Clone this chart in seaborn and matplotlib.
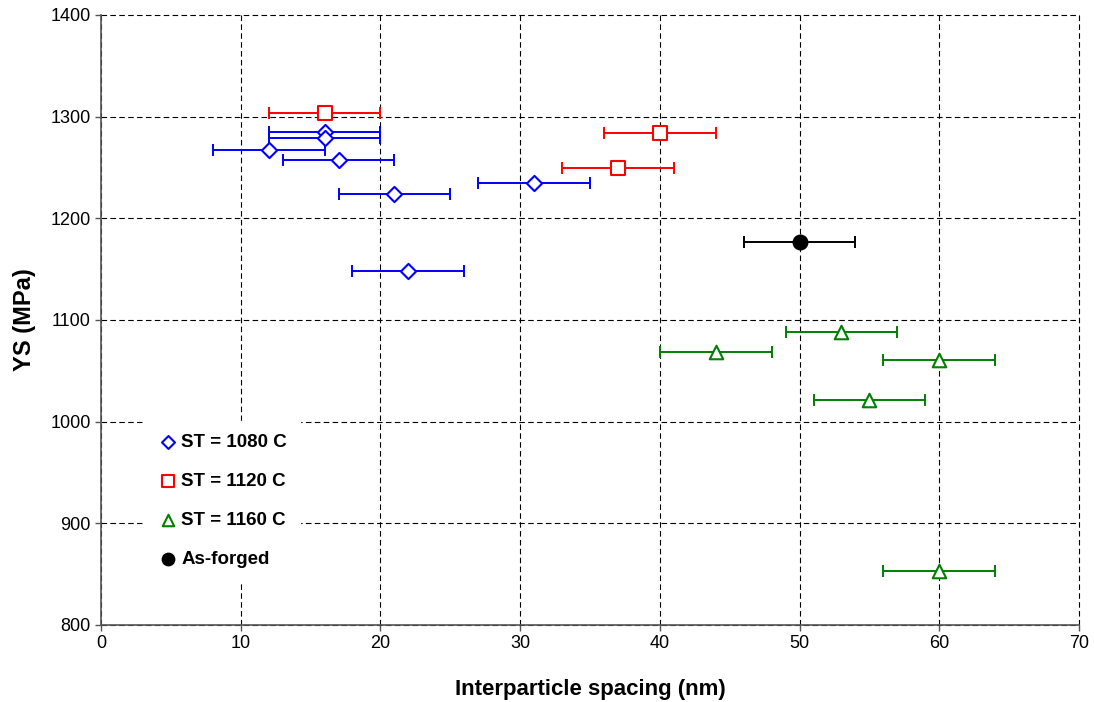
import matplotlib
matplotlib.use("Agg")
import matplotlib.pyplot as plt
import seaborn as sns
import pandas as pd

# Data
st1080_x = [16, 16, 12, 17, 21, 31, 22]
st1080_y = [1285, 1279, 1267, 1257, 1224, 1235, 1148]
st1120_x = [16, 40, 37]
st1120_y = [1304, 1284, 1250]
st1160_x = [53, 44, 60, 55, 60]
st1160_y = [1088, 1069, 1061, 1021, 853]
forged_x = [50]
forged_y = [1177]
x_err = 4

series = [
    ("ST = 1080 C", st1080_x, st1080_y, "#0000FF", "D", 60, True),
    ("ST = 1120 C", st1120_x, st1120_y, "#FF0000", "s", 90, True),
    ("ST = 1160 C", st1160_x, st1160_y, "#008000", "^", 95, True),
    ("As-forged", forged_x, forged_y, "#000000", "o", 110, False),
]

sns.set_theme(style="white")
plt.rcParams["font.family"] = ["Liberation Sans", "DejaVu Sans"]
plt.rcParams["text.color"] = "black"
plt.rcParams["axes.labelcolor"] = "black"
plt.rcParams["xtick.color"] = "black"
plt.rcParams["ytick.color"] = "black"

fig = plt.figure(figsize=(10.94, 7.02), dpi=100)
ax = fig.add_axes([101/1094, 1 - 625/702, (1079-101)/1094, (625-15)/702])

for label, xs, ys, c, m, s, hollow in series:
    df = pd.DataFrame({"x": xs, "y": ys})
    ax.errorbar(df["x"], df["y"], xerr=x_err, fmt="none", ecolor=c,
                elinewidth=1.4, capsize=4, capthick=1.4, zorder=2)
    if hollow:
        sns.scatterplot(data=df, x="x", y="y", marker=m, s=s, color="white",
                        edgecolor=c, linewidth=1.5, ax=ax, zorder=3, label=label)
    else:
        sns.scatterplot(data=df, x="x", y="y", marker=m, s=s, color=c,
                        edgecolor=c, linewidth=1, ax=ax, zorder=3, label=label)

ax.set_xlim(0, 70)
ax.set_ylim(800, 1400)
ax.set_xticks(range(0, 71, 10))
ax.set_yticks(range(800, 1401, 100))
ax.grid(True, color="black", linestyle=(0, (5, 3)), linewidth=0.8)
for gl in ax.get_xgridlines() + ax.get_ygridlines():
    gl.set_clip_on(False)
ax.set_axisbelow(True)
for sp in ["top", "right"]:
    ax.spines[sp].set_visible(False)
for sp in ["left", "bottom"]:
    ax.spines[sp].set_color("#555555")
    ax.spines[sp].set_linewidth(1.2)
    ax.spines[sp].set_zorder(2.5)
ax.tick_params(axis="both", which="major", direction="out", length=4,
               width=1, color="#555555", labelsize=13, bottom=True, left=True,
               labelcolor="black")

ax.set_xlabel("Interparticle spacing (nm)", fontsize=16, fontweight="bold", labelpad=19)
ax.set_ylabel("YS (MPa)", fontsize=17, fontweight="bold", labelpad=10)

leg = ax.legend(loc="upper left", bbox_to_anchor=(0.043, 0.335), frameon=True,
                framealpha=1, edgecolor="white", facecolor="white", fancybox=False,
                prop={"weight": "bold", "size": 13.5}, labelspacing=1.17,
                handletextpad=0.05, handlelength=1.3, borderpad=0.7,
                borderaxespad=0, markerscale=0.85)
for t in leg.get_texts():
    t.set_color("black")

fig.savefig("out.png", dpi=100)
